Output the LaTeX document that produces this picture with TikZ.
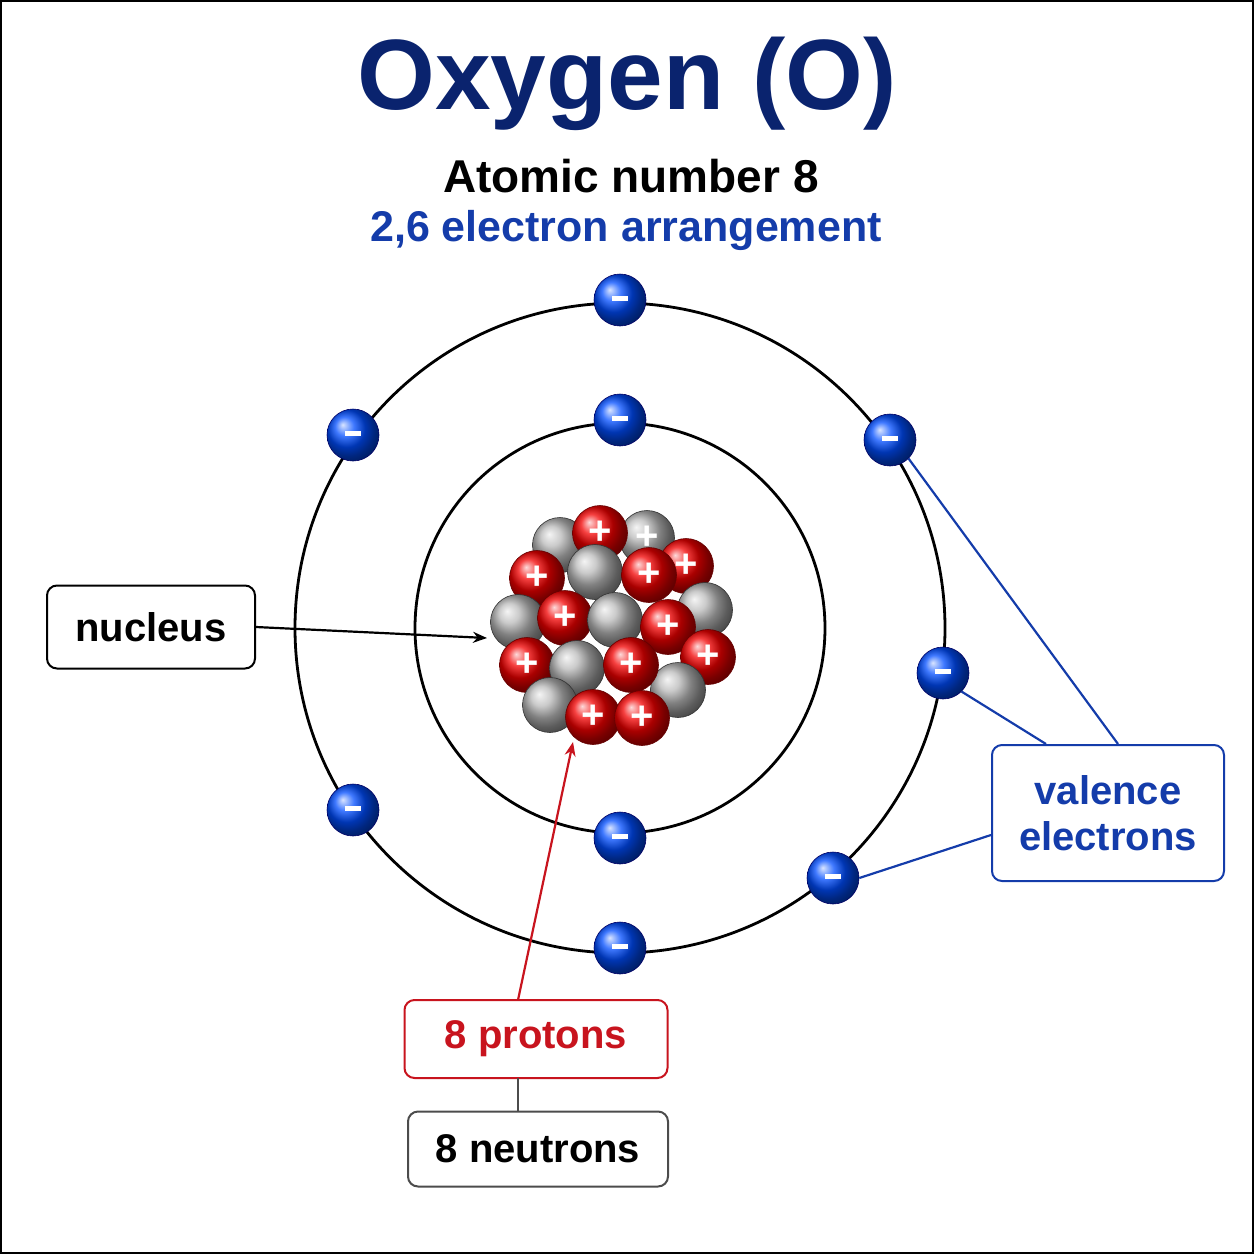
\documentclass[tikz,border=0pt]{standalone}
\usepackage{fontspec}
\setmainfont{Liberation Sans}
\usetikzlibrary{arrows.meta}
\definecolor{navy}{RGB}{10,35,110}
\definecolor{eblue}{RGB}{20,60,170}
\definecolor{pred}{RGB}{200,20,30}
\begin{document}
\begin{tikzpicture}[x=1pt,y=-1pt,
  orbit/.style={line width=2.8pt},
  prot/.style={circle,minimum size=55pt,inner sep=0,shading=ball,ball color=red!95!black,draw=red!40!black,line width=0.6pt,text=white,font=\fontsize{40}{40}\selectfont\bfseries},
  neut/.style={circle,minimum size=55pt,inner sep=0,shading=ball,ball color=gray!55,draw=gray!40!black,line width=0.6pt},
  elec/.style={circle,minimum size=52pt,inner sep=0,shading=ball,ball color=blue!70!cyan,draw=blue!40!black,line width=0.6pt,text=white,font=\fontsize{40}{40}\selectfont\bfseries},
  lbox/.style={draw,rounded corners=10pt,line width=2pt,fill=white,font=\fontsize{40}{44}\selectfont\bfseries,align=center},
  ]
\useasboundingbox (0,0) rectangle (1254,1254);
\draw[line width=2pt] (1,1) rectangle (1253,1253);
\node[text=navy,font=\fontsize{100}{100}\selectfont\bfseries] (title) at (627,84) {Oxygen (O)};
\node[font=\fontsize{46}{46}\selectfont\bfseries] (sub) at (631,176) {Atomic number 8};
\node[text=eblue,font=\fontsize{43}{43}\selectfont\bfseries] (arr) at (626,230) {2,6 electron arrangement};
\coordinate (c) at (620,628);
\draw[orbit] (c) circle (205);
\draw[orbit] (c) circle (325);
% nucleus
\node[neut] (n1) at (560,545) {};
\node[neut,text=white,font=\fontsize{40}{40}\selectfont\bfseries] (n2) at (647,538) {+};
\node[prot] (p1) at (600,533) {+};
\node[prot] (p2) at (686,566) {+};
\node[neut] (n3) at (595,572) {};
\node[prot] (p3) at (537,578) {+};
\node[prot] (p4) at (649,575) {+};
\node[neut] (n4) at (705,610) {};
\node[neut] (n5) at (518,622) {};
\node[prot] (p5) at (565,618) {+};
\node[neut] (n6) at (615,620) {};
\node[prot] (p6) at (668,627) {+};
\node[prot] (p7) at (708,657) {+};
\node[prot] (p8) at (527,665) {+};
\node[neut] (n7) at (577,668) {};
\node[neut] (n8) at (678,690) {};
\node[prot] (p9) at (631,665) {+};
\node[neut] (n9) at (550,705) {};
\node[prot] (p10) at (593,717) {+};
\node[prot] (p11) at (642,718) {+};
\coordinate (nucl) at (487,638);
\coordinate (nucb) at (573,742);
% electrons
\node[elec] (e1) at (620,420) {\raisebox{3pt}{\rule{16pt}{5pt}}};
\node[elec] (e2) at (620,838) {\raisebox{3pt}{\rule{16pt}{5pt}}};
\node[elec] (e3) at (620,300) {\raisebox{3pt}{\rule{16pt}{5pt}}};
\node[elec] (e4) at (353,435) {\raisebox{3pt}{\rule{16pt}{5pt}}};
\node[elec] (e5) at (890,440) {\raisebox{3pt}{\rule{16pt}{5pt}}};
\node[elec] (e6) at (943,673) {\raisebox{3pt}{\rule{16pt}{5pt}}};
\node[elec] (e7) at (353,810) {\raisebox{3pt}{\rule{16pt}{5pt}}};
\node[elec] (e8) at (833,878) {\raisebox{3pt}{\rule{16pt}{5pt}}};
\node[elec] (e9) at (620,948) {\raisebox{3pt}{\rule{16pt}{5pt}}};
% labels
\node[lbox,minimum width=208pt,minimum height=83pt] (nuc) at (151,627) {nucleus};
\draw[line width=2.2pt,-{Stealth[length=14pt,width=11pt]}] (nuc.east) -- (nucl);
\node[lbox,draw=eblue,text=eblue,minimum width=232pt,minimum height=136pt,font=\fontsize{40}{46}\selectfont\bfseries] (val) at (1108,813) {valence\\electrons};
\draw[eblue,line width=2.2pt] (val.north west)++(55,0) coordinate (v1) -- (e6.south east);
\draw[eblue,line width=2.2pt] (val.north)++(10,0) coordinate (v2) -- (e5.south east);
\draw[eblue,line width=2.2pt] (val.west)++(0,22) coordinate (v3) -- (e8.east);
\node[lbox,draw=pred,text=pred,minimum width=263pt,minimum height=78pt] (pro) at (536,1039) {8 protons};
\draw[pred,line width=2.2pt,-{Stealth[length=14pt,width=11pt]}] (518,1000) coordinate (pa) -- (nucb);
\node[lbox,draw=gray!60!black,minimum width=260pt,minimum height=75pt] (neu) at (538,1149) {8 neutrons};
\draw[gray!60!black,line width=2.2pt] (518,1078) coordinate (pb) -- (518,1112) coordinate (pc);
\end{tikzpicture}
\end{document}
